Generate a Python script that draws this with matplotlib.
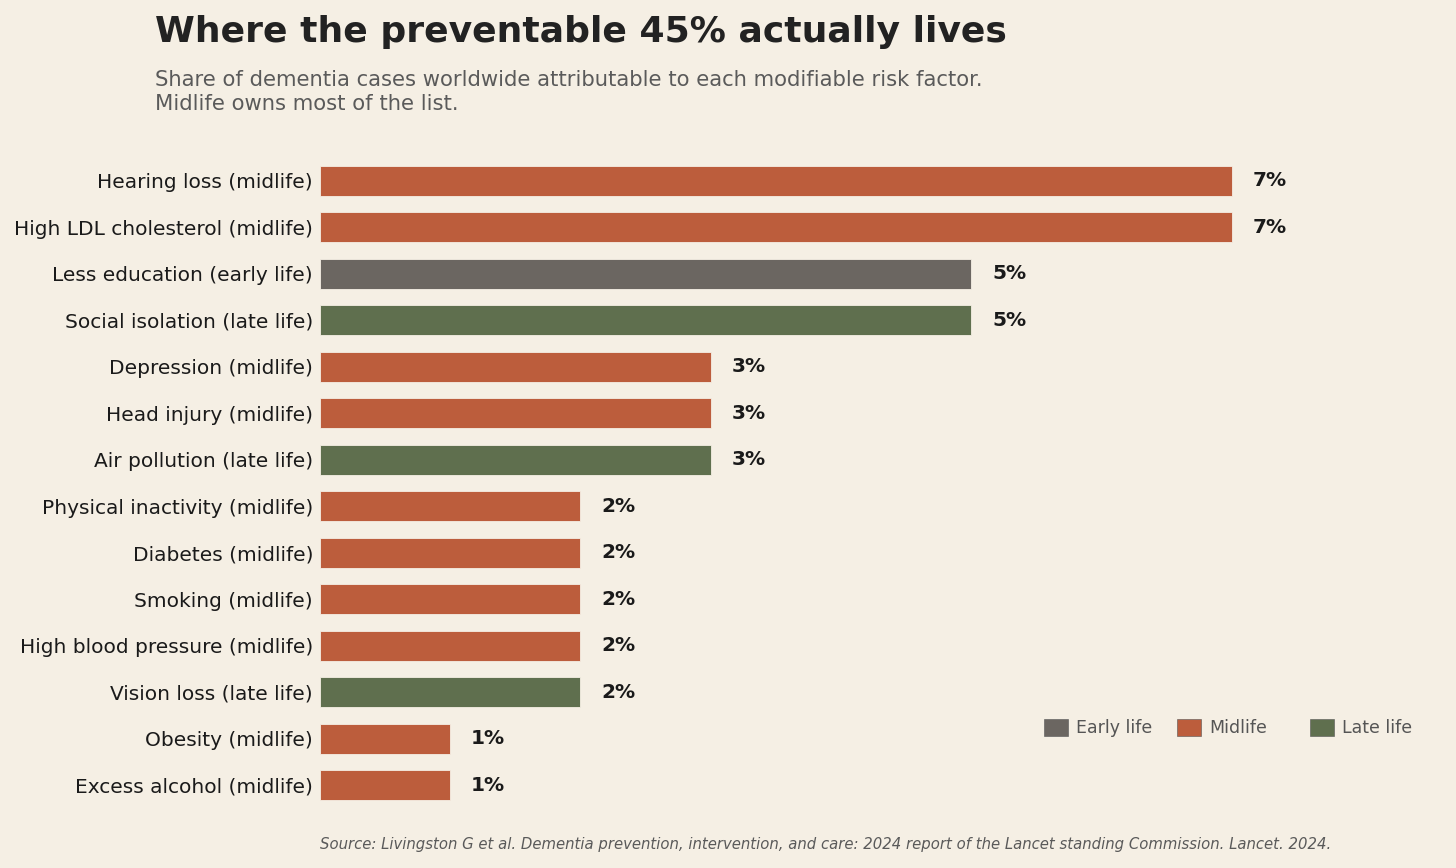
import matplotlib.pyplot as plt
from matplotlib.patches import Patch

plt.rcParams['font.family'] = ['DejaVu Sans']

# data, top to bottom
factors = ['Hearing loss (midlife)', 'High LDL cholesterol (midlife)', 'Less education (early life)',
           'Social isolation (late life)', 'Depression (midlife)', 'Head injury (midlife)',
           'Air pollution (late life)', 'Physical inactivity (midlife)', 'Diabetes (midlife)',
           'Smoking (midlife)', 'High blood pressure (midlife)', 'Vision loss (late life)',
           'Obesity (midlife)', 'Excess alcohol (midlife)']
shares = [7, 7, 5, 5, 3, 3, 3, 2, 2, 2, 2, 2, 1, 1]
stages = ['Midlife', 'Midlife', 'Early life', 'Late life', 'Midlife', 'Midlife', 'Late life',
          'Midlife', 'Midlife', 'Midlife', 'Midlife', 'Late life', 'Midlife', 'Midlife']
stage_order = ['Early life', 'Midlife', 'Late life']

bg = '#F5EFE4'
stage_colors = {'Early life': '#6B6661', 'Midlife': '#BC5D3C', 'Late life': '#5F6F4E'}

fig = plt.figure(figsize=(14.56, 8.68), dpi=100)
fig.patch.set_facecolor(bg)
ax = fig.add_axes([320 / 1456, 1 - 813 / 868, (1414 - 320) / 1456, (813 - 153) / 868])
ax.set_facecolor(bg)

y = list(range(len(factors)))
ax.barh(y, shares, height=0.65, color=[stage_colors[s] for s in stages],
        edgecolor=bg, linewidth=0.6)
for yi, v in zip(y, shares):
    ax.text(v + 0.16, yi, f'{v}%', va='center', ha='left', fontsize=14.5,
            fontweight='bold', color='#1a1a1a')

ax.set_yticks(y)
ax.set_yticklabels(factors, fontsize=14.5, color='#1a1a1a')
ax.tick_params(axis='y', length=0, pad=5)
ax.set_xticks([])
ax.set_xlim(0, 8.4)
ax.set_ylim(len(factors) - 0.4, -0.6)
for s in ax.spines.values():
    s.set_visible(False)

# legend entries placed at an even pitch, one small legend each
for i, s in enumerate(stage_order):
    h = Patch(facecolor=stage_colors[s], edgecolor='#555555', linewidth=0.4, label=s)
    fig.legend(handles=[h], loc='center left', bbox_to_anchor=((1044 + 133 * i) / 1456, 1 - 728 / 868),
               frameon=False, fontsize=12.5, labelcolor='#555555', borderpad=0, borderaxespad=0,
               handlelength=1.38, handleheight=1.2, handletextpad=0.45)

fig.text(155 / 1456, 1 - 32 / 868, 'Where the preventable 45% actually lives',
         fontsize=26, fontweight='bold', color='#222222', va='center', ha='left')
fig.text(155 / 1456, 1 - 92 / 868,
         'Share of dementia cases worldwide attributable to each modifiable risk factor.\n'
         'Midlife owns most of the list.',
         fontsize=15.2, color='#5a5a5a', va='center', ha='left', linespacing=1.3)
fig.text(320 / 1456, 1 - 845 / 868,
         'Source: Livingston G et al. Dementia prevention, intervention, and care: 2024 report '
         'of the Lancet standing Commission. Lancet. 2024.',
         fontsize=10.7, style='italic', color='#5a5a5a', va='center', ha='left')

fig.savefig('out.png', dpi=100, facecolor=bg)
